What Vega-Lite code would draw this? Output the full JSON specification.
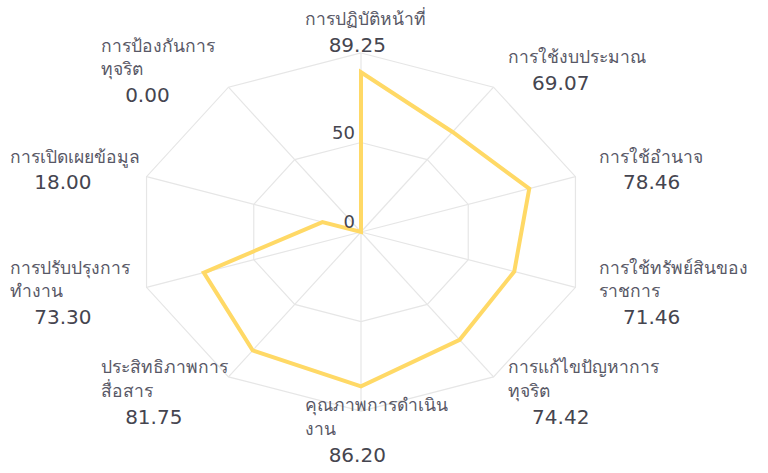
{
  "$schema": "https://vega.github.io/schema/vega-lite/v6.json",
  "width": 768,
  "height": 473,
  "autosize": {"type": "fit", "contains": "padding"},
  "padding": 0,
  "background": "white",
  "config": {"view": {"stroke": null}},
  "datasets": {
    "cats": [
      {"order": 0, "name": ["การปฏิบัติหน้าที่"], "value": 89.25},
      {"order": 1, "name": ["การใช้งบประมาณ"], "value": 69.07},
      {"order": 2, "name": ["การใช้อำนาจ"], "value": 78.46},
      {"order": 3, "name": ["การใช้ทรัพย์สินของ", "ราชการ"], "value": 71.46},
      {"order": 4, "name": ["การแก้ไขปัญหาการ", "ทุจริต"], "value": 74.42},
      {"order": 5, "name": ["คุณภาพการดำเนิน", "งาน"], "value": 86.20},
      {"order": 6, "name": ["ประสิทธิภาพการ", "สื่อสาร"], "value": 81.75},
      {"order": 7, "name": ["การปรับปรุงการ", "ทำงาน"], "value": 73.30},
      {"order": 8, "name": ["การเปิดเผยข้อมูล"], "value": 18.00},
      {"order": 9, "name": ["การป้องกันการ", "ทุจริต"], "value": 0.00}
    ],
    "ticks": [{"tick": 0}, {"tick": 50}]
  },
  "layer": [
    {
      "data": {"name": "cats"},
      "transform": [
        {"calculate": "datum.order * PI / 5", "as": "t"},
        {"calculate": "datum.value * sin(datum.t)", "as": "vx"},
        {"calculate": "datum.value * cos(datum.t)", "as": "vy"},
        {"calculate": "50 * sin(datum.t)", "as": "g50x"},
        {"calculate": "50 * cos(datum.t)", "as": "g50y"},
        {"calculate": "100 * sin(datum.t)", "as": "g100x"},
        {"calculate": "100 * cos(datum.t)", "as": "g100y"},
        {"calculate": "0", "as": "zero"},
        {"calculate": "111 * sin(datum.t) - ((datum.order == 0 || datum.order == 5) ? 25 : (datum.order > 5 ? 50 : 0))", "as": "lx"},
        {"calculate": "111 * cos(datum.t) + 7.26 + 6.56 * (length(datum.name) - 1)", "as": "ny"},
        {"calculate": "111 * cos(datum.t) - 6.98 * length(datum.name)", "as": "valy"}
      ],
      "layer": [
        {
          "mark": {"type": "line", "interpolate": "linear-closed", "stroke": "#e6e6e6", "strokeWidth": 1.2},
          "encoding": {
            "x": {"field": "g50x", "type": "quantitative", "axis": null, "scale": {"domain": [-160.1, 180.5], "nice": false, "zero": false}},
            "y": {"field": "g50y", "type": "quantitative", "axis": null, "scale": {"domain": [-134.6, 129.6], "nice": false, "zero": false}},
            "order": {"field": "order"}
          }
        },
        {
          "mark": {"type": "line", "interpolate": "linear-closed", "stroke": "#e6e6e6", "strokeWidth": 1.2},
          "encoding": {
            "x": {"field": "g100x", "type": "quantitative", "axis": null, "scale": {"domain": [-160.1, 180.5], "nice": false, "zero": false}},
            "y": {"field": "g100y", "type": "quantitative", "axis": null, "scale": {"domain": [-134.6, 129.6], "nice": false, "zero": false}},
            "order": {"field": "order"}
          }
        },
        {
          "mark": {"type": "rule", "stroke": "#e6e6e6", "strokeWidth": 1.2},
          "encoding": {
            "x": {"field": "zero", "type": "quantitative", "axis": null, "scale": {"domain": [-160.1, 180.5], "nice": false, "zero": false}},
            "y": {"field": "zero", "type": "quantitative", "axis": null, "scale": {"domain": [-134.6, 129.6], "nice": false, "zero": false}},
            "x2": {"field": "g100x"},
            "y2": {"field": "g100y"}
          }
        },
        {
          "mark": {"type": "line", "interpolate": "linear-closed", "stroke": "#FFD966", "strokeWidth": 4, "strokeJoin": "miter"},
          "encoding": {
            "x": {"field": "vx", "type": "quantitative", "axis": null, "scale": {"domain": [-160.1, 180.5], "nice": false, "zero": false}},
            "y": {"field": "vy", "type": "quantitative", "axis": null, "scale": {"domain": [-134.6, 129.6], "nice": false, "zero": false}},
            "order": {"field": "order"}
          }
        },
        {
          "mark": {"type": "text", "align": "left", "baseline": "middle", "fontSize": 17.5, "lineHeight": 23.5, "color": "#585866"},
          "encoding": {
            "x": {"field": "lx", "type": "quantitative", "axis": null, "scale": {"domain": [-160.1, 180.5], "nice": false, "zero": false}},
            "y": {"field": "ny", "type": "quantitative", "axis": null, "scale": {"domain": [-134.6, 129.6], "nice": false, "zero": false}},
            "text": {"field": "name", "type": "nominal"}
          }
        },
        {
          "mark": {"type": "text", "align": "left", "baseline": "middle", "dx": 24, "fontSize": 20, "font": "DejaVu Sans", "color": "#45454f"},
          "encoding": {
            "x": {"field": "lx", "type": "quantitative", "axis": null, "scale": {"domain": [-160.1, 180.5], "nice": false, "zero": false}},
            "y": {"field": "valy", "type": "quantitative", "axis": null, "scale": {"domain": [-134.6, 129.6], "nice": false, "zero": false}},
            "text": {"field": "value", "type": "quantitative", "format": ".2f"}
          }
        }
      ]
    },
    {
      "data": {"name": "ticks"},
      "mark": {"type": "text", "align": "right", "baseline": "bottom", "dx": -6, "dy": 0, "fontSize": 18, "font": "DejaVu Sans", "color": "#45454f"},
      "encoding": {
        "x": {"datum": 0, "type": "quantitative", "axis": null, "scale": {"domain": [-160.1, 180.5], "nice": false, "zero": false}},
        "y": {"field": "tick", "type": "quantitative", "axis": null, "scale": {"domain": [-134.6, 129.6], "nice": false, "zero": false}},
        "text": {"field": "tick", "type": "quantitative"}
      }
    }
  ]
}
